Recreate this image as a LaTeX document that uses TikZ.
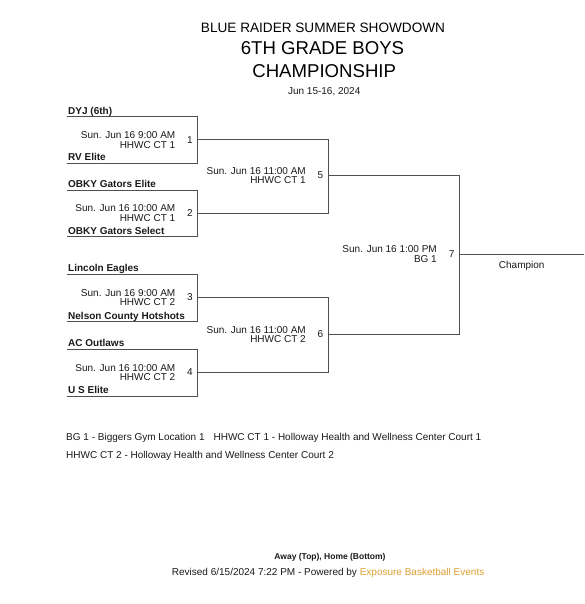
\documentclass[tikz,border=0pt]{standalone}
\usepackage{fontspec}
\setmainfont{Liberation Sans}
\definecolor{expo}{RGB}{222,160,50}
\definecolor{linegray}{RGB}{80,80,80}
\definecolor{txt}{RGB}{25,25,25}
\begin{document}
\begin{tikzpicture}[x=1pt,y=-1pt,
  bline/.style={draw=linegray, line width=1pt},
  team/.style={anchor=base west, inner sep=0pt, text=txt, font=\fontsize{10}{12}\selectfont\bfseries},
  info/.style={anchor=east, align=right, inner sep=0pt, text=txt, font=\fontsize{10}{9.6}\selectfont},
  num/.style={inner sep=0pt, text=txt, font=\fontsize{10}{12}\selectfont},
  plain/.style={inner sep=0pt, text=txt, font=\fontsize{10}{12}\selectfont}]
\useasboundingbox (0,0) rectangle (584,604);

% titles
\node[inner sep=0pt, anchor=base, font=\fontsize{13.6}{15}\selectfont] (title1) at (323,32.9) {BLUE RAIDER SUMMER SHOWDOWN};
\node[inner sep=0pt, anchor=base, font=\fontsize{18.6}{20}\selectfont] (title2) at (322.5,54.7) {6TH GRADE BOYS};
\node[inner sep=0pt, anchor=base, font=\fontsize{18.6}{20}\selectfont] (title3) at (324.2,77.4) {CHAMPIONSHIP};
\node[plain, anchor=base] (dates) at (324.2,94.3) {Jun 15-16, 2024};

% first-round boxes
\coordinate (b1tl) at (67,117);   \coordinate (b1tr) at (197.5,117);
\coordinate (b1bl) at (67,163);   \coordinate (b1br) at (197.5,163);
\coordinate (b1m) at (197.5,140);
\coordinate (b2tl) at (67,190);   \coordinate (b2tr) at (197.5,190);
\coordinate (b2bl) at (67,236.5); \coordinate (b2br) at (197.5,236.5);
\coordinate (b2m) at (197.5,213);
\coordinate (b3tl) at (67,274);   \coordinate (b3tr) at (197.5,274);
\coordinate (b3bl) at (67,321.5); \coordinate (b3br) at (197.5,321.5);
\coordinate (b3m) at (197.5,297.5);
\coordinate (b4tl) at (67,349);   \coordinate (b4tr) at (197.5,349);
\coordinate (b4bl) at (67,396);   \coordinate (b4br) at (197.5,396);
\coordinate (b4m) at (197.5,372.5);
% second round
\coordinate (m5t) at (328,140);   \coordinate (m5b) at (328,213);   \coordinate (m5m) at (328,175);
\coordinate (m6t) at (328,297.5); \coordinate (m6b) at (328,372.5); \coordinate (m6m) at (328,334.5);
% final
\coordinate (m7t) at (459,175);   \coordinate (m7b) at (459,334.5); \coordinate (m7m) at (459,254);
\coordinate (champend) at (584,254);

\draw[bline] (b1tl) -- (b1tr) -- (b1br) -- (b1bl);
\draw[bline] (b2tl) -- (b2tr) -- (b2br) -- (b2bl);
\draw[bline] (b3tl) -- (b3tr) -- (b3br) -- (b3bl);
\draw[bline] (b4tl) -- (b4tr) -- (b4br) -- (b4bl);
\draw[bline] (b1m) -- (m5t) -- (m5b) -- (b2m);
\draw[bline] (b3m) -- (m6t) -- (m6b) -- (b4m);
\draw[bline] (m5m) -- (m7t) -- (m7b) -- (m6m);
\draw[bline] (m7m) -- (champend);

% teams
\node[team] (t1a) at (68,114.5) {DYJ (6th)};
\node[team] (t1b) at (68,160.5) {RV Elite};
\node[team] (t2a) at (68,187.3) {OBKY Gators Elite};
\node[team] (t2b) at (68,234) {OBKY Gators Select};
\node[team] (t3a) at (68,271.5) {Lincoln Eagles};
\node[team] (t3b) at (68,319) {Nelson County Hotshots};
\node[team] (t4a) at (68,346.5) {AC Outlaws};
\node[team] (t4b) at (68,393.5) {U S Elite};

% game info
\node[info] (i1) at (175.5,140) {Sun. Jun 16 9:00 AM\\HHWC CT 1};
\node[num] (n1) at (190,140) {1};
\node[info] (i2) at (175.5,213) {Sun. Jun 16 10:00 AM\\HHWC CT 1};
\node[num] (n2) at (190,213) {2};
\node[info] (i3) at (175.5,297.5) {Sun. Jun 16 9:00 AM\\HHWC CT 2};
\node[num] (n3) at (190,297.5) {3};
\node[info] (i4) at (175.5,372.5) {Sun. Jun 16 10:00 AM\\HHWC CT 2};
\node[num] (n4) at (190,372.5) {4};
\node[info] (i5) at (306,175.5) {Sun. Jun 16 11:00 AM\\HHWC CT 1};
\node[num] (n5) at (320.5,175.5) {5};
\node[info] (i6) at (306,334.5) {Sun. Jun 16 11:00 AM\\HHWC CT 2};
\node[num] (n6) at (320.5,334.5) {6};
\node[info] (i7) at (437,254) {Sun. Jun 16 1:00 PM\\BG 1};
\node[num] (n7) at (451.7,254) {7};
\node[plain] (champ) at (521.7,265.5) {Champion};

% legend
\node[plain, anchor=base west] (leg1) at (66,440) {BG 1 - Biggers Gym Location 1\hspace{0.9em}HHWC CT 1 - Holloway Health and Wellness Center Court 1};
\node[plain, anchor=base west] (leg2) at (66,458) {HHWC CT 2 - Holloway Health and Wellness Center Court 2};

% footer
\node[inner sep=0pt, anchor=base, text=txt, font=\fontsize{8.5}{10}\selectfont\bfseries] (away) at (330,559.7) {Away (Top), Home (Bottom)};
\node[plain, anchor=base west] (rev) at (171.7,575.3) {Revised 6/15/2024 7:22 PM - Powered by \textcolor{expo}{Exposure Basketball Events}};
\end{tikzpicture}
\end{document}
